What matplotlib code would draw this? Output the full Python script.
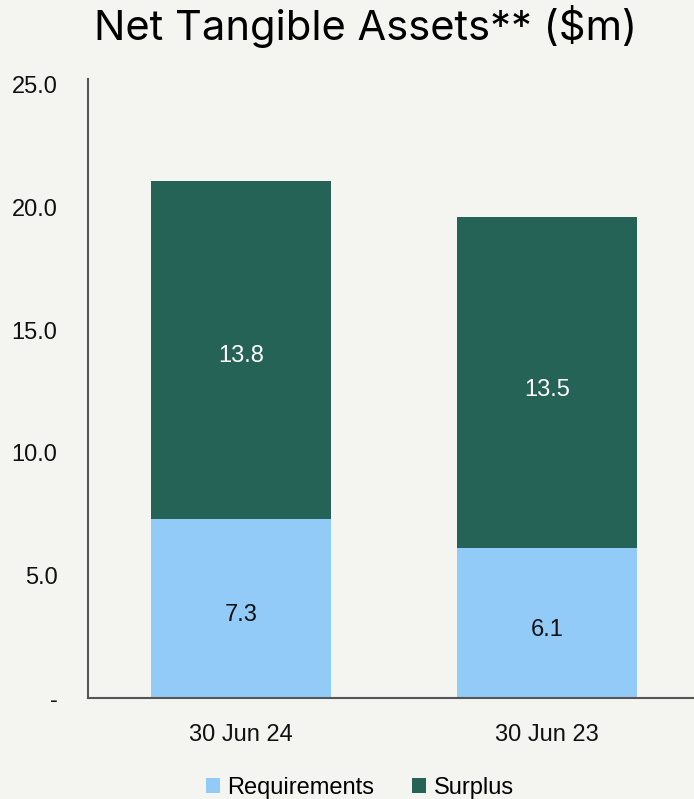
import matplotlib.pyplot as plt
import numpy as np

categories = ["30 Jun 24", "30 Jun 23"]
requirements = [7.3, 6.1]
surplus = [13.8, 13.5]
yticks = [0, 5, 10, 15, 20, 25]
ytick_labels = ["-", "5.0", "10.0", "15.0", "20.0", "25.0"]

bg = "#F4F4F0"
c_req = "#92CBF8"
c_sur = "#246356"

plt.rcParams['font.family'] = ['Liberation Sans', 'DejaVu Sans']

fig = plt.figure(figsize=(6.94, 7.99), dpi=100, facecolor=bg)
ax = fig.add_axes([88 / 694, 101 / 799, 606 / 694, 619 / 799], facecolor=bg)

x = np.arange(len(categories))
w = 0.59
b1 = ax.bar(x, requirements, w, color=c_req, label="Requirements")
b2 = ax.bar(x, surplus, w, bottom=requirements, color=c_sur, label="Surplus")

for i in range(len(categories)):
    ax.annotate(f"{requirements[i]:.1f}", (x[i], requirements[i] / 2), xytext=(0, -3),
                textcoords="offset points", ha="center", va="center_baseline",
                fontsize=17, color="#111111")
    ax.annotate(f"{surplus[i]:.1f}", (x[i], requirements[i] + surplus[i] / 2), xytext=(0, -3),
                textcoords="offset points", ha="center", va="center_baseline",
                fontsize=17, color="white")

ax.set_xlim(-0.5, 1.48)
ax.set_ylim(0, 25.24)
ax.set_xticks(x)
ax.set_xticklabels(categories, fontsize=17)
ax.set_yticks(yticks)
ax.set_yticklabels(ytick_labels, fontsize=17)
ax.tick_params(axis="both", length=0, colors="#111111")
ax.tick_params(axis="y", pad=22)
ax.tick_params(axis="x", pad=19)

for s in ["top", "right"]:
    ax.spines[s].set_visible(False)
for s in ["left", "bottom"]:
    ax.spines[s].set_color("#555555")
    ax.spines[s].set_linewidth(1.5)

fig.text(366 / 694, 1 - 27 / 799, "Net Tangible Assets** ($m)", ha="center", va="center",
         fontsize=30, color="black", family=["Inter", "DejaVu Sans"])

fig.legend(handles=[b1, b2], loc="center", bbox_to_anchor=(360 / 694, 1 - 788 / 799),
           ncol=2, frameon=False, fontsize=17, handlelength=0.6, handleheight=0.6,
           handletextpad=0.3, columnspacing=1.6)

fig.savefig("out.png", dpi=100, facecolor=bg)
